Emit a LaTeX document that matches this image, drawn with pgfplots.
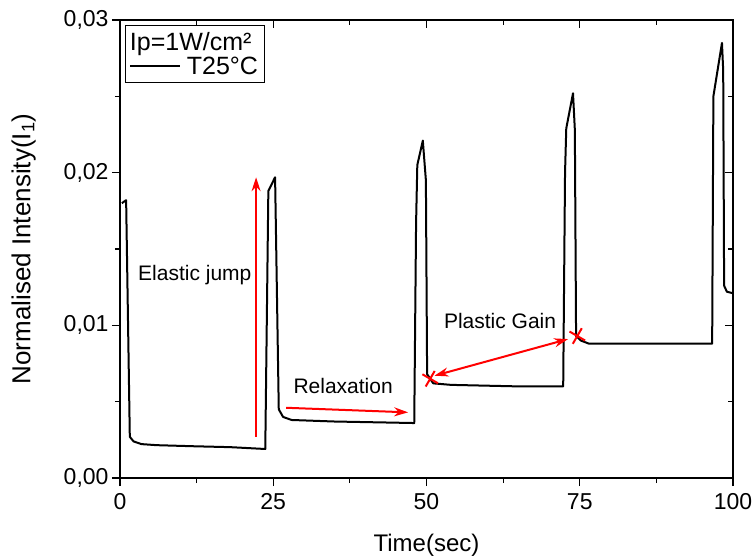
\documentclass[border=0pt]{standalone}
\usepackage{fontspec}
\setmainfont{Liberation Sans}
\usepackage{pgfplots}
\pgfplotsset{compat=1.18}
\usetikzlibrary{arrows.meta}

\pgfplotstableread{
t y
0.3 0.0180
1.0 0.0182
1.6 0.0027
2.2 0.0024
3.5 0.00222
6 0.00215
12 0.00208
18 0.00202
23.7 0.0019
24.2 0.0188
25.3 0.0197
25.9 0.0045
26.6 0.0040
28 0.0038
35 0.0037
48.0 0.0036
48.3 0.0167
48.5 0.0205
49.4 0.0221
49.9 0.0195
50.1 0.0068
51.1 0.0062
54 0.0061
65 0.0060
72.3 0.0060
72.6 0.0200
72.8 0.0229
73.9 0.0252
74.2 0.0228
74.4 0.0093
75.2 0.0090
76.5 0.0088
85 0.0088
96.6 0.0088
96.8 0.0250
98.2 0.0285
98.4 0.0267
98.55 0.0126
99.0 0.0122
100 0.0121
}\datatable

\begin{document}
\begin{tikzpicture}
\begin{axis}[
  name=main,
  at={(0,0)}, anchor=south west,
  scale only axis, width=613bp, height=458bp,
  xmin=0, xmax=100, ymin=0, ymax=0.03,
  xtick={0,25,50,75,100}, ytick={0,0.01,0.02,0.03},
  minor x tick num=1, minor y tick num=1,
  xtick pos=bottom, ytick pos=left, tick align=outside,
  major tick length=8bp, minor tick length=5bp,
  axis line style={line width=1.3bp},
  every tick/.append style={line width=1.2bp, black},
  every minor tick/.append style={line width=1.2bp, black},
  scaled y ticks=false,
  yticklabel style={/pgf/number format/.cd, fixed, fixed zerofill, precision=2, use comma},
  /pgf/number format/assume math mode=true,
  ticklabel style={font=\fontsize{23bp}{27bp}\selectfont},
  xticklabel style={yshift=-4bp},
  xlabel={Time(sec)},
  ylabel={Normalised Intensity(I\textsubscript{1})},
  every axis x label/.style={at={(axis description cs:0.5,-0.146)}, anchor=center, font=\fontsize{24bp}{28bp}\selectfont},
  every axis y label/.style={at={(axis description cs:-0.157,0.5)}, rotate=90, anchor=center, font=\fontsize{26bp}{30bp}\selectfont},
  legend style={at={(rel axis cs:0.008,0.989)}, anchor=north west, draw=black, line width=1bp,
    font=\fontsize{25bp}{29bp}\selectfont, inner sep=4bp, row sep=0bp, nodes={inner sep=2.5bp}},
  legend cell align=left,
  legend image code/.code={\draw[#1, line width=2bp] (0bp,0bp) -- (50bp,0bp); \path (53bp,0bp);},
]
\addlegendimage{empty legend}
\addlegendentry{\hspace*{-57bp}Ip=1W/cm²}
\addplot[black, line width=2bp, line join=round] table[x=t, y=y] {\datatable};
\addlegendentry{T25°C}

% annotation arrows
\addplot[red, line width=2bp, -{Stealth[length=14bp, width=9bp]}, forget plot] coordinates {(22.2,0.0027) (22.2,0.0197)};
\addplot[red, line width=2bp, -{Stealth[length=14bp, width=9bp]}, forget plot] coordinates {(27.1,0.0046) (47.0,0.0043)};
\addplot[red, line width=2bp, {Stealth[length=14bp, width=9bp]}-{Stealth[length=14bp, width=9bp]}, forget plot] coordinates {(51.3,0.0067) (73.1,0.0091)};
\addplot[red, only marks, mark=x, mark size=9bp, mark options={line width=2bp, rotate=15}, forget plot] coordinates {(50.6,0.0065) (74.6,0.0093)};

\node[font=\fontsize{21bp}{25bp}\selectfont] at (axis cs:12.2,0.0133) {Elastic jump};
\node[font=\fontsize{21bp}{25bp}\selectfont] at (axis cs:36.4,0.0060) {Relaxation};
\node[font=\fontsize{21bp}{25bp}\selectfont] at (axis cs:62.0,0.0103) {Plastic Gain};
\end{axis}
\begin{axis}[
  at={(0,0)}, anchor=south west,
  scale only axis, width=613bp, height=458bp,
  xmin=0, xmax=100, ymin=0, ymax=0.03,
  xtick={0,25,50,75,100}, ytick={0,0.01,0.02,0.03},
  minor x tick num=1, minor y tick num=1,
  xtick pos=top, ytick pos=right, tick align=inside,
  major tick length=8bp, minor tick length=5bp,
  axis line style={line width=1.3bp},
  every tick/.append style={line width=1.2bp, black},
  every minor tick/.append style={line width=1.2bp, black},
  scaled y ticks=false, scaled x ticks=false,
  xticklabels={}, yticklabels={},
]
\end{axis}
\pgfresetboundingbox
\useasboundingbox (-120bp,-81bp) rectangle (635bp,478bp);
\end{tikzpicture}
\end{document}
